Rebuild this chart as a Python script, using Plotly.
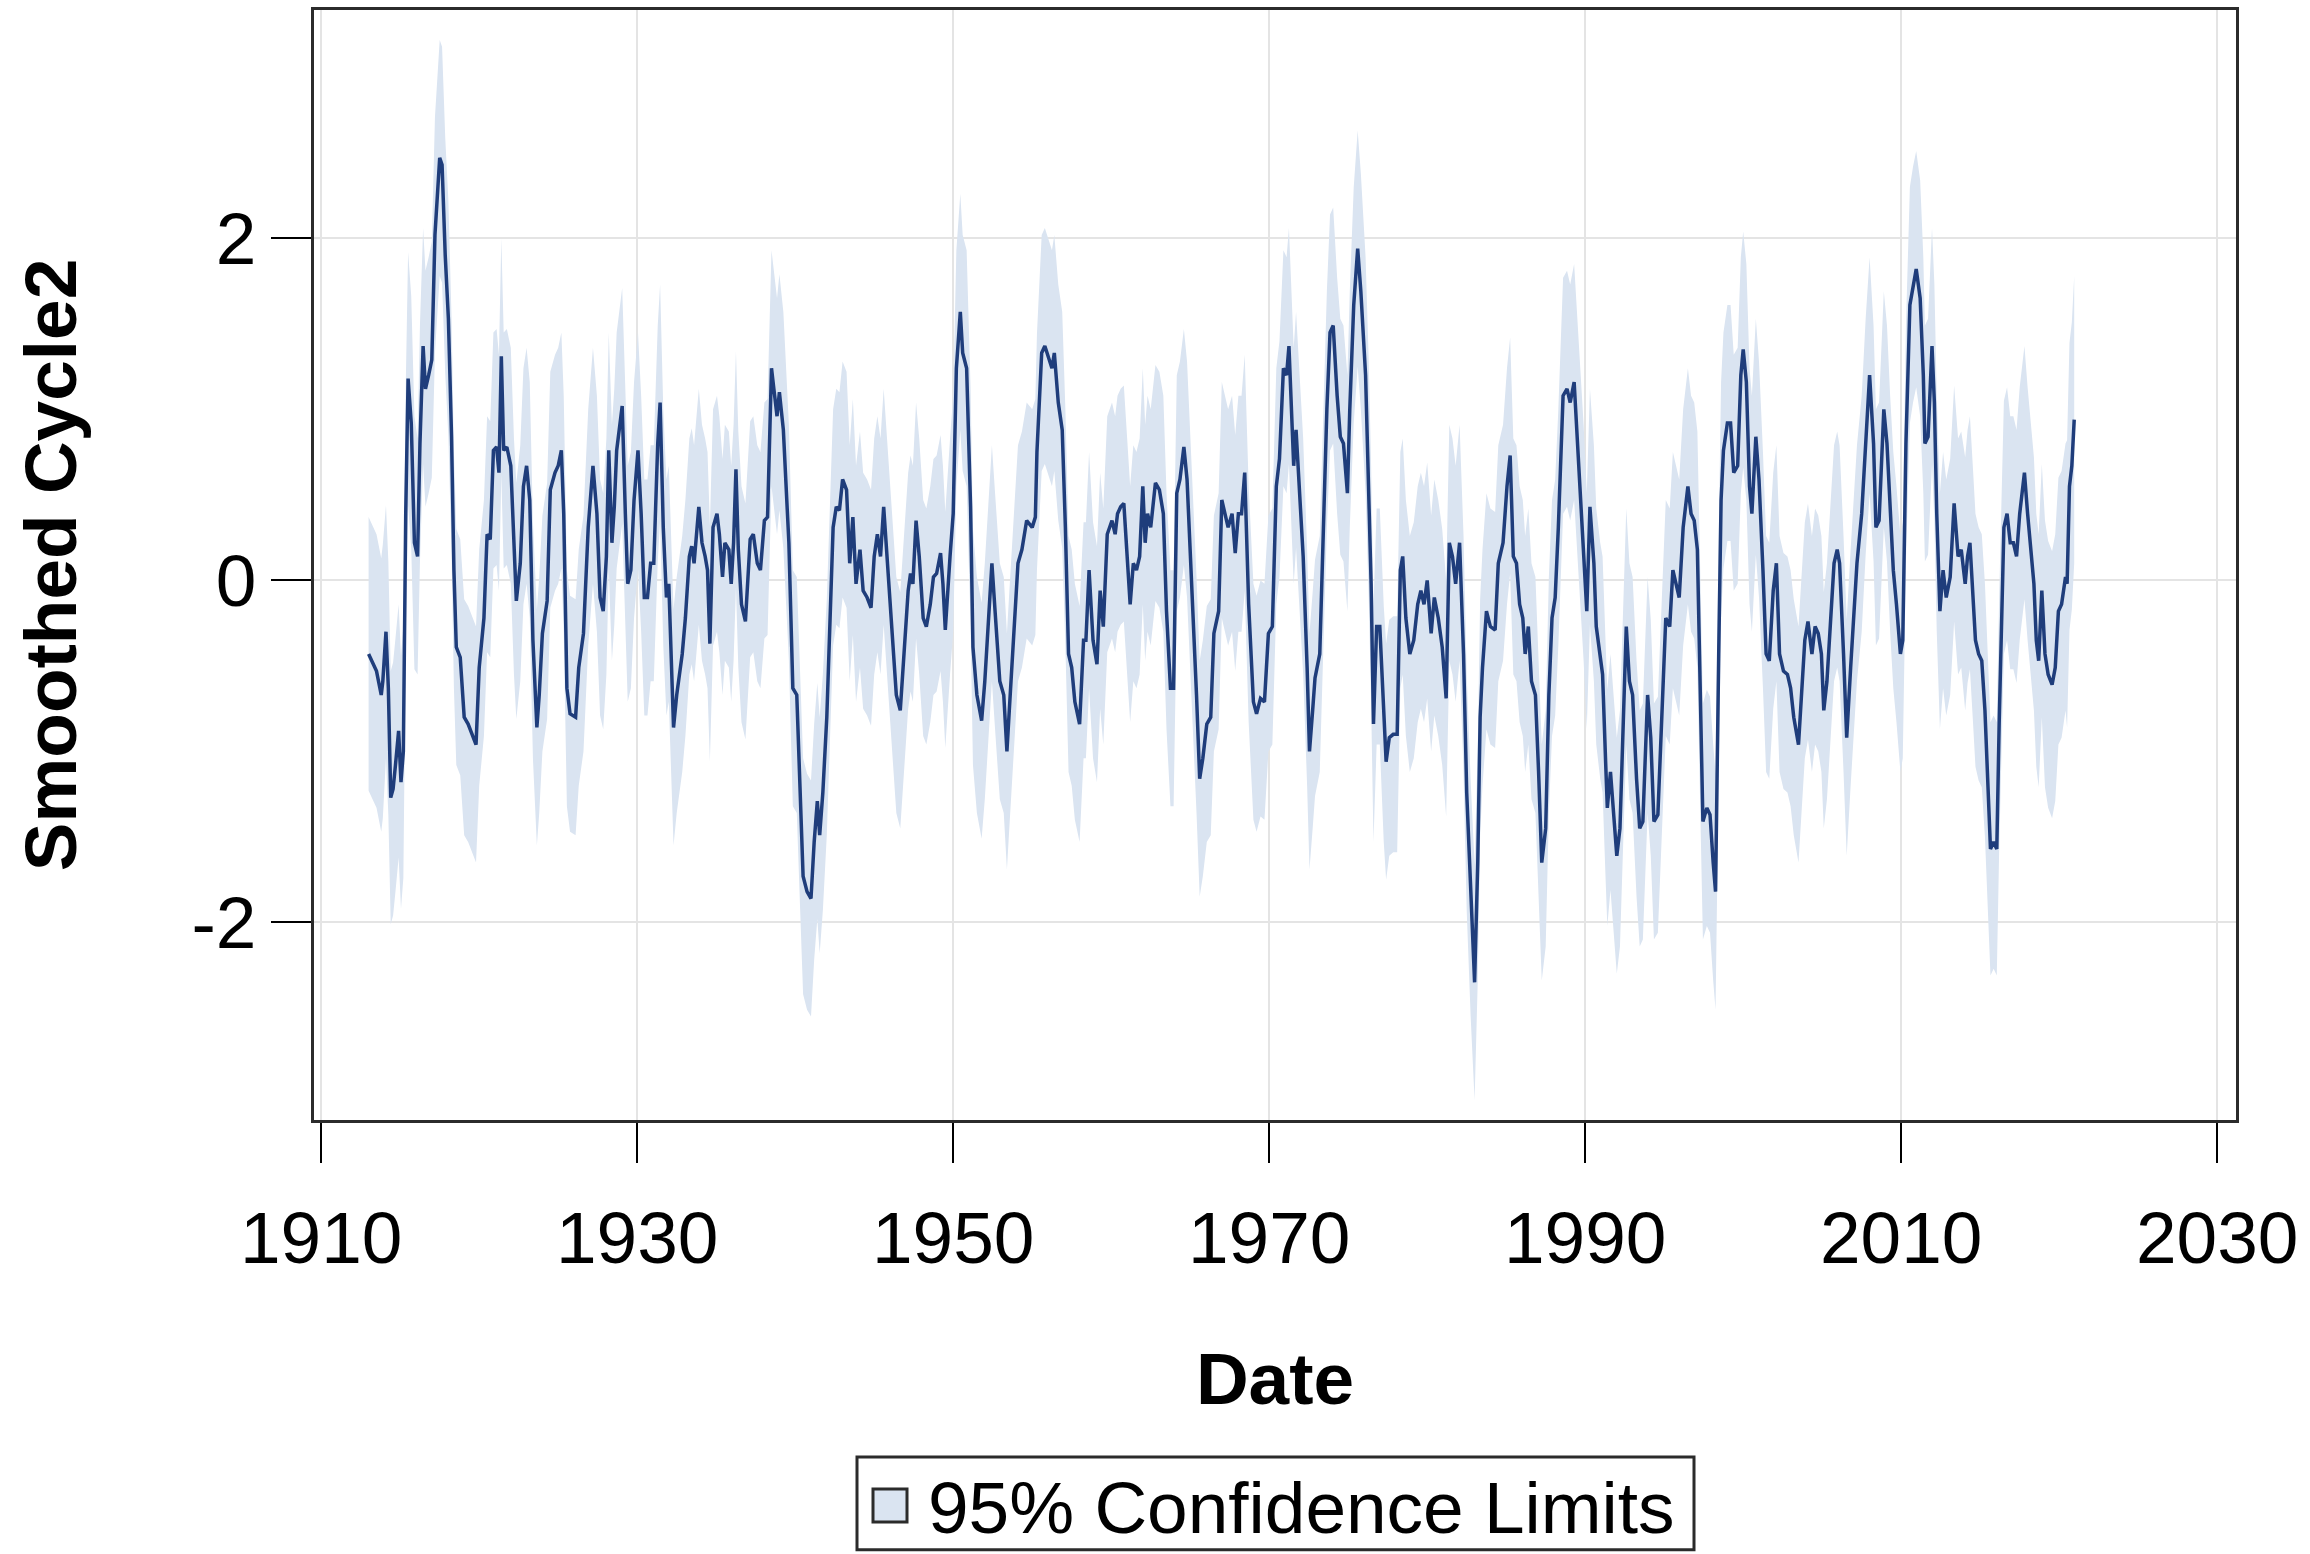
import plotly.graph_objects as go

# Smoothed cycle estimate (decimal year, value)
dates = [
    1913.0, 1913.3, 1913.5, 1913.8, 1913.9, 1914.1, 1914.25, 1914.4, 1914.55, 1914.7,
    1914.9, 1915.05, 1915.2, 1915.35, 1915.5, 1915.7, 1915.9, 1916.1, 1916.25, 1916.45,
    1916.6, 1916.8, 1917.0, 1917.2, 1917.5, 1917.65, 1917.85, 1918.05, 1918.25, 1918.4,
    1918.55, 1918.8, 1919.05, 1919.3, 1919.6, 1919.8, 1920.0, 1920.3, 1920.5, 1920.7,
    1920.9, 1921.1, 1921.25, 1921.4, 1921.55, 1921.75, 1922.0, 1922.2, 1922.35, 1922.6,
    1922.8, 1923.0, 1923.2, 1923.4, 1923.65, 1923.8, 1924.0, 1924.3, 1924.5, 1924.8,
    1925.0, 1925.2, 1925.35, 1925.55, 1925.75, 1926.1, 1926.3, 1926.6, 1926.9, 1927.2,
    1927.45, 1927.65, 1927.85, 1928.05, 1928.2, 1928.4, 1928.55, 1928.7, 1929.05, 1929.25,
    1929.4, 1929.6, 1929.8, 1930.05, 1930.25, 1930.45, 1930.65, 1930.85, 1931.05, 1931.3,
    1931.45, 1931.65, 1931.85, 1932.0, 1932.2, 1932.3, 1932.5, 1932.85, 1933.05, 1933.3,
    1933.45, 1933.6, 1933.9, 1934.1, 1934.3, 1934.45, 1934.6, 1934.8, 1935.05, 1935.2,
    1935.4, 1935.55, 1935.8, 1935.95, 1936.1, 1936.25, 1936.4, 1936.6, 1936.85, 1937.15,
    1937.35, 1937.6, 1937.8, 1938.05, 1938.25, 1938.5, 1938.65, 1938.85, 1939.0, 1939.25,
    1939.6, 1939.85, 1940.1, 1940.35, 1940.5, 1940.75, 1941.0, 1941.2, 1941.4, 1941.55,
    1941.75, 1942.0, 1942.2, 1942.4, 1942.6, 1942.8, 1943.0, 1943.25, 1943.45, 1943.65,
    1943.85, 1944.1, 1944.3, 1944.55, 1944.8, 1945.0, 1945.2, 1945.4, 1945.6, 1945.85,
    1946.1, 1946.4, 1946.65, 1946.9, 1947.15, 1947.3, 1947.45, 1947.65, 1947.85, 1948.1,
    1948.3, 1948.55, 1948.75, 1948.95, 1949.2, 1949.35, 1949.5, 1949.8, 1950.0, 1950.2,
    1950.45, 1950.6, 1950.85, 1951.1, 1951.25, 1951.5, 1951.8, 1952.0, 1952.25, 1952.45,
    1952.65, 1952.95, 1953.2, 1953.4, 1953.55, 1953.8, 1954.1, 1954.35, 1954.65, 1955.0,
    1955.2, 1955.3, 1955.6, 1955.8, 1956.05, 1956.25, 1956.4, 1956.65, 1956.9, 1957.1,
    1957.3, 1957.5, 1957.7, 1958.0, 1958.25, 1958.4, 1958.6, 1958.85, 1959.1, 1959.3,
    1959.5, 1959.75, 1960.05, 1960.25, 1960.4, 1960.6, 1960.8, 1961.0, 1961.2, 1961.4,
    1961.6, 1961.8, 1962.0, 1962.15, 1962.3, 1962.5, 1962.8, 1963.05, 1963.3, 1963.5,
    1963.75, 1963.95, 1964.15, 1964.35, 1964.6, 1964.8, 1965.0, 1965.2, 1965.4, 1965.6,
    1965.8, 1966.05, 1966.3, 1966.5, 1966.8, 1967.0, 1967.2, 1967.4, 1967.65, 1967.85,
    1968.05, 1968.25, 1968.45, 1968.7, 1969.0, 1969.2, 1969.45, 1969.7, 1969.95, 1970.2,
    1970.45, 1970.65, 1970.9, 1971.1, 1971.25, 1971.4, 1971.55, 1971.7, 1971.9, 1972.15,
    1972.4, 1972.55, 1972.75, 1972.9, 1973.2, 1973.45, 1973.65, 1973.85, 1974.05, 1974.3,
    1974.5, 1974.7, 1974.95, 1975.1, 1975.35, 1975.6, 1975.8, 1976.1, 1976.3, 1976.45,
    1976.6, 1976.8, 1977.0, 1977.25, 1977.4, 1977.6, 1977.85, 1978.1, 1978.3, 1978.45,
    1978.65, 1978.9, 1979.15, 1979.4, 1979.6, 1979.8, 1980.0, 1980.25, 1980.45, 1980.7,
    1980.95, 1981.2, 1981.4, 1981.6, 1981.8, 1982.05, 1982.3, 1982.5, 1982.75, 1983.0,
    1983.2, 1983.35, 1983.5, 1983.75, 1984.0, 1984.3, 1984.5, 1984.8, 1985.05, 1985.25,
    1985.45, 1985.65, 1985.85, 1986.05, 1986.2, 1986.4, 1986.6, 1986.85, 1987.05, 1987.25,
    1987.5, 1987.7, 1987.9, 1988.1, 1988.3, 1988.6, 1988.85, 1989.05, 1989.3, 1989.5,
    1989.7, 1989.9, 1990.1, 1990.3, 1990.55, 1990.7, 1990.95, 1991.1, 1991.3, 1991.4,
    1991.6, 1991.8, 1992.0, 1992.2, 1992.4, 1992.6, 1992.8, 1993.0, 1993.25, 1993.45,
    1993.65, 1993.8, 1993.95, 1994.15, 1994.35, 1994.6, 1994.85, 1995.1, 1995.35, 1995.55,
    1995.75, 1995.95, 1996.2, 1996.5, 1996.7, 1996.9, 1997.1, 1997.3, 1997.45, 1997.7,
    1997.9, 1998.1, 1998.25, 1998.45, 1998.6, 1998.75, 1999.0, 1999.2, 1999.4, 1999.65,
    1999.85, 2000.0, 2000.2, 2000.4, 2000.55, 2000.8, 2001.0, 2001.25, 2001.45, 2001.65,
    2001.9, 2002.1, 2002.3, 2002.55, 2002.8, 2003.0, 2003.2, 2003.5, 2003.7, 2003.9,
    2004.1, 2004.35, 2004.55, 2004.75, 2004.95, 2005.1, 2005.3, 2005.55, 2005.75, 2005.95,
    2006.1, 2006.35, 2006.55, 2006.8, 2007.0, 2007.2, 2007.5, 2007.75, 2008.0, 2008.25,
    2008.4, 2008.6, 2008.9, 2009.1, 2009.3, 2009.5, 2009.7, 2009.95, 2010.1, 2010.3,
    2010.55, 2010.75, 2010.95, 2011.2, 2011.4, 2011.5, 2011.7, 2011.95, 2012.1, 2012.25,
    2012.45, 2012.65, 2012.85, 2013.1, 2013.35, 2013.6, 2013.8, 2014.05, 2014.2, 2014.35,
    2014.55, 2014.7, 2014.9, 2015.1, 2015.3, 2015.45, 2015.65, 2015.85, 2016.05, 2016.2,
    2016.35, 2016.5, 2016.7, 2016.9, 2017.1, 2017.3, 2017.5, 2017.8, 2018.0, 2018.2,
    2018.4, 2018.55, 2018.7, 2018.9, 2019.1, 2019.3, 2019.55, 2019.75, 2019.95, 2020.15,
    2020.4, 2020.5, 2020.65, 2020.8, 2020.95,
]

cycle2 = [
    -0.43, -0.49, -0.53, -0.67, -0.59, -0.30, -0.63, -1.27, -1.22, -1.08,
    -0.88, -1.18, -1.00, 0.39, 1.18, 0.92, 0.22, 0.14, 0.80, 1.37,
    1.12, 1.20, 1.29, 2.02, 2.47, 2.43, 1.90, 1.53, 0.84, 0.06,
    -0.39, -0.45, -0.80, -0.84, -0.92, -0.96, -0.51, -0.22, 0.27, 0.24,
    0.76, 0.78, 0.63, 1.31, 0.76, 0.78, 0.67, 0.14, -0.12, 0.10,
    0.55, 0.67, 0.47, -0.35, -0.86, -0.67, -0.31, -0.12, 0.53, 0.63,
    0.67, 0.76, 0.39, -0.63, -0.78, -0.80, -0.51, -0.31, 0.31, 0.67,
    0.39, -0.10, -0.18, 0.14, 0.76, 0.22, 0.43, 0.76, 1.02, 0.39,
    -0.02, 0.06, 0.47, 0.76, 0.39, -0.10, -0.10, 0.10, 0.10, 0.80,
    1.04, 0.31, -0.10, -0.02, -0.63, -0.86, -0.67, -0.43, -0.22, 0.14,
    0.20, 0.10, 0.43, 0.22, 0.14, 0.06, -0.37, 0.31, 0.39, 0.27,
    0.02, 0.22, 0.18, -0.02, 0.22, 0.65, 0.18, -0.14, -0.24, 0.24,
    0.27, 0.10, 0.06, 0.35, 0.37, 1.24, 1.12, 0.96, 1.10, 0.88,
    0.22, -0.63, -0.67, -1.33, -1.73, -1.82, -1.86, -1.53, -1.29, -1.49,
    -1.24, -0.80, -0.22, 0.31, 0.43, 0.41, 0.59, 0.53, 0.10, 0.37,
    -0.02, 0.18, -0.06, -0.10, -0.16, 0.14, 0.27, 0.14, 0.43, 0.10,
    -0.22, -0.67, -0.76, -0.43, -0.06, 0.04, -0.02, 0.35, 0.14, -0.22,
    -0.27, -0.14, 0.02, 0.04, 0.16, -0.02, -0.29, 0.14, 0.39, 1.24,
    1.57, 1.33, 1.24, 0.43, -0.39, -0.67, -0.82, -0.59, -0.18, 0.10,
    -0.18, -0.59, -0.67, -1.00, -0.76, -0.35, 0.10, 0.18, 0.35, 0.31,
    0.37, 0.75, 1.33, 1.37, 1.29, 1.24, 1.33, 1.04, 0.88, 0.31,
    -0.43, -0.51, -0.71, -0.84, -0.35, -0.35, 0.06, -0.35, -0.49, -0.06,
    -0.27, 0.27, 0.35, 0.27, 0.39, 0.43, 0.45, 0.14, -0.14, 0.10,
    0.06, 0.14, 0.55, 0.22, 0.39, 0.31, 0.57, 0.53, 0.39, -0.18,
    -0.63, -0.63, 0.51, 0.59, 0.78, 0.59, 0.18, -0.18, -0.67, -1.16,
    -1.04, -0.84, -0.80, -0.31, -0.18, 0.47, 0.39, 0.31, 0.39, 0.16,
    0.39, 0.39, 0.63, -0.14, -0.71, -0.78, -0.69, -0.71, -0.31, -0.27,
    0.55, 0.71, 1.24, 1.20, 1.37, 0.96, 0.67, 0.88, 0.55, 0.14,
    -0.51, -1.00, -0.76, -0.57, -0.43, 0.39, 1.00, 1.45, 1.49, 1.08,
    0.84, 0.80, 0.51, 1.00, 1.61, 1.94, 1.69, 1.20, 0.59, -0.02,
    -0.84, -0.27, -0.27, -0.84, -1.06, -0.92, -0.90, -0.90, 0.06, 0.14,
    -0.22, -0.43, -0.35, -0.14, -0.06, -0.14, 0.00, -0.31, -0.10, -0.22,
    -0.39, -0.69, 0.22, 0.14, -0.02, 0.22, -0.43, -1.24, -1.86, -2.35,
    -1.65, -0.80, -0.51, -0.18, -0.27, -0.29, 0.10, 0.22, 0.55, 0.73,
    0.14, 0.10, -0.14, -0.22, -0.43, -0.27, -0.59, -0.67, -1.12, -1.65,
    -1.45, -0.67, -0.22, -0.10, 0.31, 1.08, 1.12, 1.04, 1.16, 0.84,
    0.47, 0.22, -0.18, 0.43, 0.10, -0.27, -0.47, -0.55, -1.08, -1.33,
    -1.12, -1.37, -1.61, -1.45, -0.80, -0.27, -0.59, -0.67, -1.16, -1.45,
    -1.41, -1.04, -0.67, -0.92, -1.41, -1.37, -0.76, -0.22, -0.27, 0.06,
    -0.02, -0.10, 0.31, 0.55, 0.39, 0.35, 0.18, -0.63, -1.41, -1.33,
    -1.37, -1.65, -1.82, -0.43, 0.47, 0.76, 0.92, 0.92, 0.63, 0.67,
    1.20, 1.35, 1.16, 0.55, 0.39, 0.84, 0.59, 0.06, -0.43, -0.47,
    -0.06, 0.10, -0.43, -0.53, -0.55, -0.63, -0.80, -0.96, -0.63, -0.35,
    -0.24, -0.43, -0.27, -0.31, -0.43, -0.76, -0.59, -0.22, 0.10, 0.18,
    0.10, -0.43, -0.92, -0.51, -0.18, 0.10, 0.39, 0.84, 1.20, 0.80,
    0.31, 0.35, 1.00, 0.80, 0.39, 0.06, -0.14, -0.43, -0.35, 0.80,
    1.61, 1.73, 1.82, 1.65, 1.20, 0.80, 0.84, 1.37, 1.04, 0.39,
    -0.18, 0.06, -0.10, 0.02, 0.45, 0.14, 0.18, -0.02, 0.14, 0.22,
    -0.10, -0.35, -0.43, -0.47, -0.76, -1.16, -1.57, -1.53, -1.57, -0.84,
    -0.27, 0.31, 0.39, 0.22, 0.22, 0.14, 0.39, 0.63, 0.39, 0.18,
    -0.02, -0.35, -0.47, -0.06, -0.43, -0.55, -0.61, -0.51, -0.18, -0.14,
    0.02, -0.02, 0.55, 0.67, 0.94,
]

# Half-width of the 95% confidence band, by period starting year
ci_period_start = [1913.0, 1914.0, 1916.0, 2014.0, 2019.0, 2020.5]
ci_half_width = [0.80, 0.74, 0.69, 0.74, 0.78, 0.84]

x_ticks = [1910, 1930, 1950, 1970, 1990, 2010, 2030]
y_ticks = [-2, 0, 2]
y_tick_text = ["-2", "0", "2"]

x_title = "Date"
y_title = "Smoothed Cycle2"
band_label = "95% Confidence Limits"


def half_width_at(year):
    hw = ci_half_width[0]
    for start, w in zip(ci_period_start, ci_half_width):
        if year >= start:
            hw = w
    return hw


lower = [v - half_width_at(d) for d, v in zip(dates, cycle2)]
upper = [v + half_width_at(d) for d, v in zip(dates, cycle2)]

# Styling
W, H = 2310, 1554
ML, MR, MT, MB = 314, 74, 7, 434
FONT = "Liberation Sans, Arial, Helvetica, sans-serif"
LINE_COLOR = "#1f3d7b"
BAND_COLOR = "#dae4f1"
FRAME_COLOR = "#2b2b2b"
GRID_COLOR = "#e4e4e4"
FS = 73

plot_w = W - ML - MR
plot_h = H - MT - MB


def px_x(px):
    return (px - ML) / plot_w


def px_y(py):
    return (H - MB - py) / plot_h


fig = go.Figure()

fig.add_trace(go.Scatter(
    x=dates, y=lower, mode="lines", line=dict(width=0, color=BAND_COLOR),
    showlegend=False, hoverinfo="skip",
))
fig.add_trace(go.Scatter(
    x=dates, y=upper, mode="lines", line=dict(width=0, color=BAND_COLOR),
    fill="tonexty", fillcolor=BAND_COLOR, name=band_label, showlegend=False,
    hoverinfo="skip",
))
fig.add_trace(go.Scatter(
    x=dates, y=cycle2, mode="lines", line=dict(width=3.5, color=LINE_COLOR),
    name=y_title, showlegend=False,
))

# Legend box drawn as shapes with a text label
legend_shapes = [
    dict(type="rect", xref="paper", yref="paper",
         x0=px_x(857), x1=px_x(1694), y0=px_y(1551), y1=px_y(1458),
         line=dict(color=FRAME_COLOR, width=3), fillcolor="white", layer="above"),
    dict(type="rect", xref="paper", yref="paper",
         x0=px_x(873), x1=px_x(907), y0=px_y(1523), y1=px_y(1490),
         line=dict(color=FRAME_COLOR, width=3), fillcolor=BAND_COLOR, layer="above"),
]

fig.update_layout(
    width=W, height=H,
    margin=dict(l=ML, r=MR, t=MT, b=MB, pad=0),
    paper_bgcolor="white", plot_bgcolor="white",
    font=dict(family=FONT, size=FS, color="black"),
    showlegend=False,
    shapes=legend_shapes,
    annotations=[dict(
        text=band_label, xref="paper", yref="paper",
        x=px_x(926), y=px_y(1509), xanchor="left", yanchor="middle",
        showarrow=False, font=dict(family=FONT, size=FS, color="black"),
    )],
)

fig.update_xaxes(
    range=[1909.544, 2031.19],
    tickvals=x_ticks, ticks="outside", ticklen=40, tickwidth=1.5, tickcolor="black",
    ticklabelstandoff=12,
    showline=True, linecolor=FRAME_COLOR, linewidth=3, mirror=True,
    showgrid=True, gridcolor=GRID_COLOR, gridwidth=2, zeroline=False,
    tickfont=dict(family=FONT, size=FS, color="black"),
    title=dict(text="<b>" + x_title + "</b>", font=dict(family=FONT, size=FS),
               standoff=77),
)
fig.update_yaxes(
    range=[-3.155, 3.335],
    tickvals=y_ticks, ticktext=y_tick_text, ticks="outside", ticklen=40,
    tickwidth=1.5, tickcolor="black",
    showline=True, linecolor=FRAME_COLOR, linewidth=3, mirror=True,
    showgrid=True, gridcolor=GRID_COLOR, gridwidth=2, zeroline=False,
    tickfont=dict(family=FONT, size=FS, color="black"),
    title=dict(text="<b>" + y_title + "</b>", font=dict(family=FONT, size=FS),
               standoff=91),
)

fig.write_html("out.html")
